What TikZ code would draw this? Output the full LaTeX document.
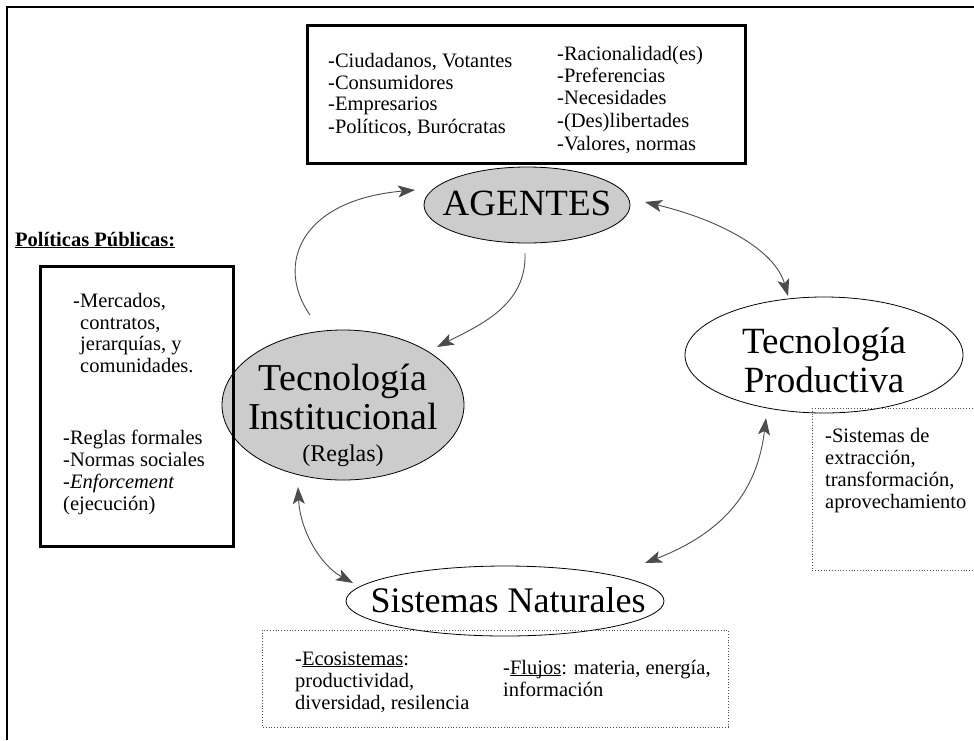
\documentclass[tikz,border=0pt]{standalone}
\usepackage{fontspec}
\setmainfont{Liberation Serif}
\usetikzlibrary{arrows.meta}
\newcommand\myul[1]{\leavevmode\setbox0\hbox{#1}\rlap{\rule[-2.2pt]{\wd0}{0.9pt}}\box0}
\begin{document}
\begin{tikzpicture}[x=1pt,y=-1pt,
  lbl/.style={font=\fontsize{20.5}{22}\selectfont, anchor=base west, inner sep=0pt},
  big/.style={font=\fontsize{37}{37}\selectfont, anchor=base, inner sep=0pt},
  ell/.style={draw=black, line width=0.8pt},
  shade/.style={fill=black!20},
  thickbox/.style={draw=black, line width=3pt},
  dotbox/.style={draw=black!70, line width=0.8pt, dotted},
  conn/.style={draw=black!70, line width=0.9pt},
  tip/.style={Stealth[length=17pt,width=12pt,inset=4pt]}]
\useasboundingbox (0,0) rectangle (974,740);
\fill[white] (0,0) rectangle (974,740);
% frame
\draw[line width=2.5pt] (7,740) -- (7,7) -- (974,7);
% top box
\draw[thickbox] (307,25) rectangle (745,163);
\node[lbl] (a1) at (328,67) {-Ciudadanos, Votantes};
\node[lbl] (a2) at (328,89) {-Consumidores};
\node[lbl] (a3) at (328,110) {-Empresarios};
\node[lbl] (a4) at (328,133) {-Políticos, Burócratas};
\node[lbl] (b1) at (557,60) {-Racionalidad(es)};
\node[lbl] (b2) at (557,82) {-Preferencias};
\node[lbl] (b3) at (557,104) {-Necesidades};
\node[lbl] (b4) at (557,127) {-(Des)libertades};
\node[lbl] (b5) at (557,150) {-Valores, normas};
% AGENTES
\draw[ell, shade] (527,205) ellipse [x radius=103, y radius=38];
\node[big] (agentes) at (527,215) {AGENTES};
% Politicas publicas
\node[anchor=base west, inner sep=0pt, font=\fontsize{20.5}{22}\selectfont\bfseries] (pp) at (15,246) {\myul{Políticas Públicas:}};
% Tecnologia institucional
\draw[ell, shade] (343,405) ellipse [x radius=121, y radius=75];
\node[big, font=\fontsize{38}{38}\selectfont] (ti1) at (343,390) {Tecnología};
\node[big, font=\fontsize{38}{38}\selectfont] (ti2) at (343,429) {Institucional};
\node[big, font=\fontsize{24}{24}\selectfont] (ti3) at (343,461) {(Reglas)};
% left box
\draw[thickbox] (40,266) rectangle (233,546);
\node[lbl] (c1) at (73,307) {-Mercados,};
\node[lbl] (c2) at (80,329) {contratos,};
\node[lbl] (c3) at (80,350) {jerarquías, y};
\node[lbl] (c4) at (80,372) {comunidades.};
\node[lbl] (d1) at (63,444) {-Reglas formales};
\node[lbl] (d2) at (63,466) {-Normas sociales};
\node[lbl] (d3) at (63,488) {-\textit{Enforcement}};
\node[lbl] (d4) at (63,510) {(ejecución)};
% Tecnologia productiva
\draw[ell, fill=white] (824,355) ellipse [x radius=139, y radius=58];
\node[big] (tp1) at (824,353) {Tecnología};
\node[big] (tp2) at (824,392) {Productiva};
\draw[dotbox] (812,408) -- (980,408) (812,408) -- (812,570) -- (980,570);
\node[lbl] (e1) at (825,442) {-Sistemas de};
\node[lbl] (e2) at (825,464) {extracción,};
\node[lbl] (e3) at (825,486) {transformación,};
\node[lbl] (e4) at (825,508) {aprovechamiento};
% Sistemas naturales
\draw[ell, fill=white] (505,601) ellipse [x radius=159, y radius=35];
\node[big, font=\fontsize{36}{36}\selectfont] (sn) at (508,612) {Sistemas Naturales};
\draw[dotbox] (262,630) rectangle (728,727);
\node[lbl] (f1) at (295,665) {-\myul{Ecosistemas}:};
\node[lbl] (f2) at (295,687) {productividad,};
\node[lbl] (f3) at (295,709) {diversidad, resilencia};
\node[lbl] (g1) at (503,674) {-\myul{Flujos}: materia, energía,};
\node[lbl] (g2) at (503,696) {información};
% connectors
\coordinate (p1s) at (525,253);
\coordinate (p1e) at (437,347);
\draw[conn, -{Stealth[length=17pt,width=12pt,inset=4pt]}] (p1s) .. controls (527,305) and (480,325) .. (p1e);
\coordinate (p2s) at (310,315);
\coordinate (p2e) at (415,190);
\draw[conn, -{Stealth[length=17pt,width=12pt,inset=4pt]}] (p2s) .. controls (275,265) and (300,200) .. (p2e);
\coordinate (p3s) at (645,202);
\coordinate (p3e) at (788,296);
\draw[conn, {Stealth[length=17pt,width=12pt,inset=4pt]}-{Stealth[length=17pt,width=12pt,inset=4pt]}] (p3s) .. controls (720,220) and (775,250) .. (p3e);
\coordinate (p4s) at (766,418);
\coordinate (p4e) at (645,563);
\draw[conn, {Stealth[length=17pt,width=12pt,inset=4pt]}-{Stealth[length=17pt,width=12pt,inset=4pt]}] (p4s) .. controls (758,485) and (730,530) .. (p4e);
\coordinate (p5s) at (298,487);
\coordinate (p5e) at (353,583);
\draw[conn, {Stealth[length=17pt,width=12pt,inset=4pt]}-{Stealth[length=17pt,width=12pt,inset=4pt]}] (p5s) .. controls (300,530) and (320,565) .. (p5e);
\end{tikzpicture}
\end{document}
